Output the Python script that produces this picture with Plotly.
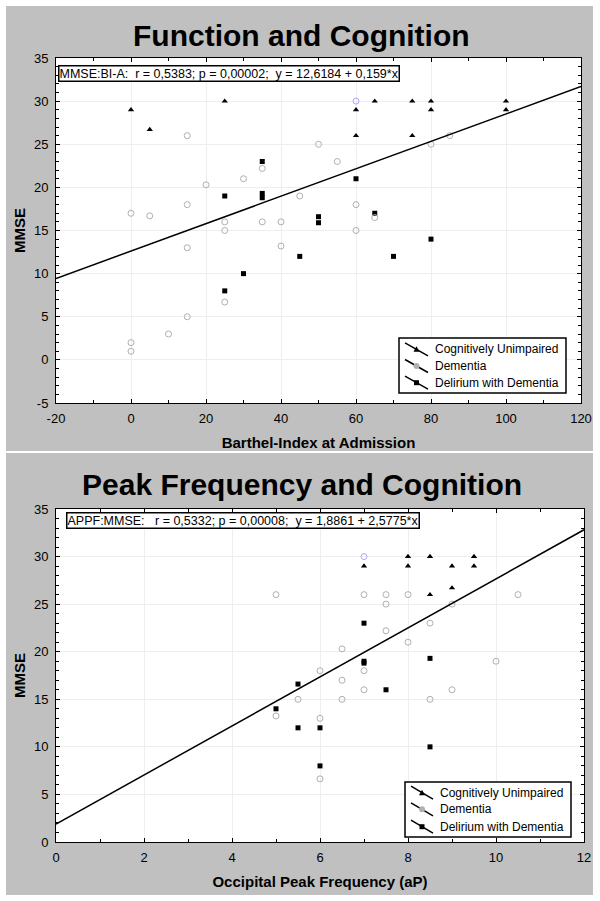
import plotly.graph_objects as go

# ---------------- data: top panel (Barthel-Index vs MMSE) ----------------
cu_bi = [0, 5, 25, 60, 60, 65, 75, 75, 80, 80, 100, 100]
cu_mmse = [29, 26.7, 30, 29, 26, 30, 30, 26, 30, 29, 30, 29]

dem_bi = [60, 0, 0, 0, 5, 10, 15, 15, 15, 15, 20, 25, 25, 25, 30, 35, 35, 40, 40, 45, 50, 55, 60, 60, 65, 80, 85]
dem_mmse = [30, 1, 2, 17, 16.7, 3, 5, 13, 18, 26, 20.3, 6.7, 15, 16, 21, 16, 22.2, 13.2, 16, 19, 25, 23, 18, 15, 16.5, 25, 26]

del_bi = [25, 25, 30, 35, 35, 35, 45, 50, 50, 60, 65, 70, 80]
del_mmse = [8, 19, 10, 23, 19.3, 18.8, 12, 16.6, 15.9, 21, 17, 12, 14]

reg1_intercept, reg1_slope = 12.6184, 0.159
x1_range = [-20, 120]
y1_range = [-5, 35]
x1_ticks = [-20, 0, 20, 40, 60, 80, 100, 120]
y1_ticks = [-5, 0, 5, 10, 15, 20, 25, 30, 35]

# ---------------- data: bottom panel (Peak frequency vs MMSE) ----------------
cu_freq = [7, 8, 8, 8.5, 8.5, 9, 9, 9.5, 9.5]
cu_mmse2 = [29, 30, 29, 30, 26, 29, 26.7, 30, 29]

dem_freq = [7, 5, 7, 7.5, 8, 10.5, 7.5, 9, 8.5, 7.5, 8, 6.5, 10, 6, 7, 6.5, 7, 9, 5.5, 6.5, 8.5, 5, 6, 6]
dem_mmse2 = [30, 26, 26, 26, 26, 26, 25, 25, 23, 22.2, 21, 20.3, 19, 18, 18, 17, 16, 16, 15, 15, 15, 13.25, 13, 6.64]

del_freq = [7, 8.5, 7, 7, 7.5, 5.5, 5, 5.5, 6, 8.5, 6]
del_mmse2 = [23, 19.3, 19, 18.8, 16, 16.6, 14, 12, 12, 10, 8]

reg2_intercept, reg2_slope = 1.8861, 2.5775
x2_range = [0, 12]
y2_range = [0, 35]
x2_ticks = [0, 2, 4, 6, 8, 10, 12]
y2_ticks = [0, 5, 10, 15, 20, 25, 30, 35]

series_names = ["Cognitively Unimpaired", "Dementia", "Delirium with Dementia"]
stats1 = "MMSE:BI-A:  r = 0,5383; p = 0,00002;  y = 12,6184 + 0,159*x"
stats2 = "APPF:MMSE:   r = 0,5332; p = 0,00008;  y = 1,8861 + 2,5775*x"

# ---------------- styling ----------------
W, H = 600, 901
FONT = "Liberation Sans, Arial, sans-serif"
GRAY_BG = "#c0c0c0"
DEM_COLOR = "#b0b0b0"
HILITE = "#a8a8ff"

def px_x(p):
    return p / W

def px_y(p):
    return 1 - p / H

def tick_text(vals):
    return [str(v) for v in vals]  # plain hyphen-minus like the original

fig = go.Figure()

def add_panel(xa, ya, cx, cy, dx, dy, lx, ly, xr, b0, b1):
    fig.add_trace(go.Scatter(x=lx, y=ly, mode="markers", name=series_names[2], xaxis=xa, yaxis=ya,
                             marker=dict(symbol="square", size=5, color="black"), showlegend=False))
    dem_colors = [HILITE if i == 0 else DEM_COLOR for i in range(len(dx))]
    fig.add_trace(go.Scatter(x=dx, y=dy, mode="markers", name=series_names[1], xaxis=xa, yaxis=ya,
                             marker=dict(symbol="circle-open", size=6, color=dem_colors, line=dict(width=1)),
                             showlegend=False))
    fig.add_trace(go.Scatter(x=cx, y=cy, mode="markers", name=series_names[0], xaxis=xa, yaxis=ya,
                             marker=dict(symbol="triangle-up", size=5.5, color="black"), showlegend=False))
    fig.add_trace(go.Scatter(x=xr, y=[b0 + b1 * v for v in xr], mode="lines", xaxis=xa, yaxis=ya,
                             line=dict(color="black", width=1.5), showlegend=False, hoverinfo="skip"))

add_panel("x", "y", cu_bi, cu_mmse, dem_bi, dem_mmse, del_bi, del_mmse, x1_range, reg1_intercept, reg1_slope)
add_panel("x2", "y2", cu_freq, cu_mmse2, dem_freq, dem_mmse2, del_freq, del_mmse2, x2_range, reg2_intercept, reg2_slope)

axis_common = dict(showline=True, linecolor="black", linewidth=1, mirror="ticks", ticks="inside",
                   ticklen=4, tickcolor="black", showgrid=True, gridcolor="#eeeeee", gridwidth=1,
                   zeroline=False, tickfont=dict(family=FONT, size=13, color="black"), automargin=False,
                   minor=dict(ticks="inside", ticklen=3, tickcolor="black", showgrid=False))
title_font = dict(family=FONT, size=15, color="black", weight="bold")

# panel geometry (pixels)
top_plot = dict(l=56, r=581, t=58, b=403)
bot_plot = dict(l=56, r=584, t=509, b=842)

fig.update_layout(
    width=W, height=H, margin=dict(l=0, r=0, t=0, b=0),
    paper_bgcolor=GRAY_BG, plot_bgcolor="white", showlegend=False,
    font=dict(family=FONT, color="black"),
    xaxis=dict(axis_common, domain=[px_x(top_plot["l"]), px_x(top_plot["r"])], range=x1_range,
               tickvals=x1_ticks, ticktext=tick_text(x1_ticks), anchor="y",
               minor=dict(axis_common["minor"], dtick=10), ticklabelstandoff=3,
               title=dict(text="Barthel-Index at Admission", font=title_font, standoff=12)),
    yaxis=dict(axis_common, domain=[px_y(top_plot["b"]), px_y(top_plot["t"])], range=y1_range,
               tickvals=y1_ticks, ticktext=tick_text(y1_ticks), anchor="x",
               minor=dict(axis_common["minor"], dtick=1), ticklabelstandoff=4,
               title=dict(text="MMSE", font=title_font, standoff=4)),
    xaxis2=dict(axis_common, domain=[px_x(bot_plot["l"]), px_x(bot_plot["r"])], range=x2_range,
                tickvals=x2_ticks, ticktext=tick_text(x2_ticks), anchor="y2",
                minor=dict(axis_common["minor"], dtick=1), ticklabelstandoff=3,
                title=dict(text="Occipital Peak Frequency (aP)", font=title_font, standoff=12)),
    yaxis2=dict(axis_common, domain=[px_y(bot_plot["b"]), px_y(bot_plot["t"])], range=y2_range,
                tickvals=y2_ticks, ticktext=tick_text(y2_ticks), anchor="x2",
                minor=dict(axis_common["minor"], dtick=1), ticklabelstandoff=4,
                title=dict(text="MMSE", font=title_font, standoff=4)),
)

shapes = []
# white page border around the gray panels
for x0, x1, y0, y1 in [(0, 6, 0, H), (593, W, 0, H), (0, W, 0, 6), (0, W, 895, H), (0, W, 451, 453)]:
    shapes.append(dict(type="rect", xref="paper", yref="paper", x0=px_x(x0), x1=px_x(x1),
                       y0=px_y(y1), y1=px_y(y0), fillcolor="white", line=dict(width=0), layer="below"))

annotations = []
# panel titles
annotations.append(dict(text="Function and Cognition", xref="paper", yref="paper", x=px_x(301), y=px_y(35),
                        xanchor="center", yanchor="middle", showarrow=False,
                        font=dict(family=FONT, size=30, color="black", weight="bold")))
annotations.append(dict(text="Peak Frequency and Cognition", xref="paper", yref="paper", x=px_x(302), y=px_y(484),
                        xanchor="center", yanchor="middle", showarrow=False,
                        font=dict(family=FONT, size=30, color="black", weight="bold")))

def stats_box(text, xa, ya, plot, left_px, top_px):
    w = plot["r"] - plot["l"]
    h = plot["b"] - plot["t"]
    annotations.append(dict(text=text.replace(" ", "\u00a0"), xref=f"{xa} domain", yref=f"{ya} domain",
                            x=(left_px - plot["l"]) / w, y=1 - (top_px - plot["t"]) / h,
                            xanchor="left", yanchor="top", showarrow=False, align="left",
                            bgcolor="white", bordercolor="black", borderwidth=1.5, borderpad=0,
                            font=dict(family=FONT, size=12.5, color="black")))

stats_box(stats1, "x", "y", top_plot, 58, 65)
stats_box(stats2, "x2", "y2", bot_plot, 66, 512)

def legend_box(xa, ya, plot, box, rows_y, line_x, text_x):
    w = plot["r"] - plot["l"]
    h = plot["b"] - plot["t"]
    fx = lambda p: (p - plot["l"]) / w
    fy = lambda p: (plot["b"] - p) / h
    xr, yr = f"{xa} domain", f"{ya} domain"
    shapes.append(dict(type="rect", xref=xr, yref=yr, x0=fx(box[0]), x1=fx(box[1]), y0=fy(box[3]), y1=fy(box[2]),
                       fillcolor="white", line=dict(color="black", width=1.5)))
    mx = (line_x[0] + line_x[1]) / 2
    for i, ry in enumerate(rows_y):
        shapes.append(dict(type="line", xref=xr, yref=yr, x0=fx(line_x[0]), x1=fx(line_x[1]),
                           y0=fy(ry - 6.5), y1=fy(ry + 6.5), line=dict(color="black", width=1.5)))
        common = dict(xref=xr, yref=yr, xsizemode="pixel", ysizemode="pixel", xanchor=fx(mx), yanchor=fy(ry))
        if i == 0:
            shapes.append(dict(type="path", path="M -3,-2.5 L 3,-2.5 L 0,3 Z", fillcolor="black",
                               line=dict(width=0), **common))
        elif i == 1:
            shapes.append(dict(type="circle", x0=-3, x1=3, y0=-3, y1=3, fillcolor=DEM_COLOR,
                               line=dict(width=0), **common))
        else:
            shapes.append(dict(type="rect", x0=-2.5, x1=2.5, y0=-2.5, y1=2.5, fillcolor="black",
                               line=dict(width=0), **common))
        annotations.append(dict(text=series_names[i], xref=xr, yref=yr, x=fx(text_x), y=fy(ry),
                                xanchor="left", yanchor="middle", showarrow=False,
                                font=dict(family=FONT, size=12, color="black")))

legend_box("x", "y", top_plot, (399, 566, 338, 393), [349.3, 366, 382.7], (405, 428), 433)
legend_box("x2", "y2", bot_plot, (405, 571, 782, 837), [792.7, 809.3, 826.7], (411, 433), 438)

fig.update_layout(shapes=shapes, annotations=annotations)
fig.write_html("out.html", config={"displayModeBar": False},
               post_script="document.body.style.margin='0';document.body.style.overflow='hidden';")
